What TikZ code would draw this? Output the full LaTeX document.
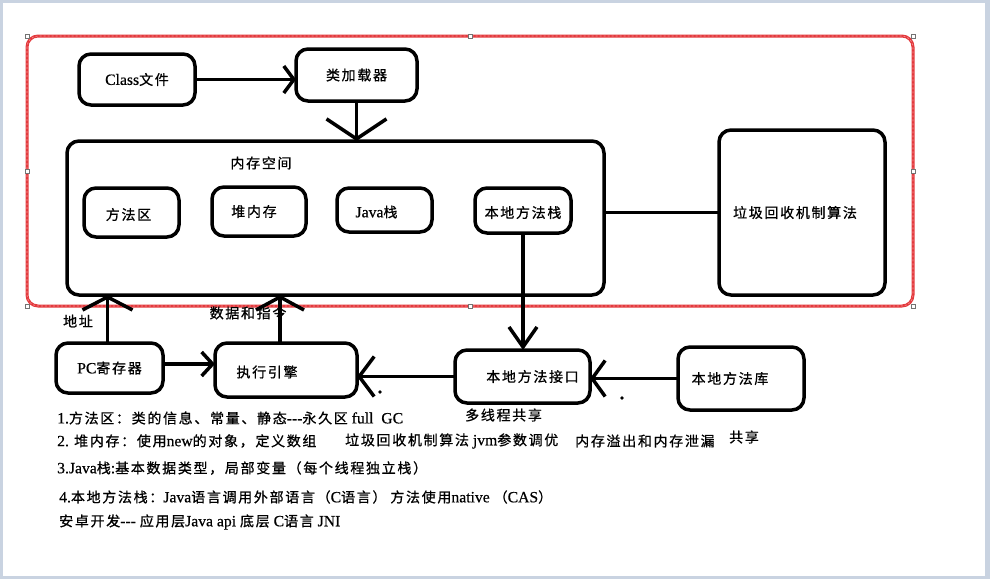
\documentclass[tikz,border=0pt]{standalone}
\usepackage{fontspec}
\setmainfont{Liberation Serif}[Scale=1.12, FakeBold=0.5]
\newfontfamily\cjk{Noto Sans CJK SC}[LetterSpace=12, FakeBold=0.8]
\newcommand\zh[1]{{\cjk #1}}
\usetikzlibrary{arrows.meta}
\definecolor{bgblue}{HTML}{C9D3E1}
\definecolor{framered}{HTML}{E4393D}
\tikzset{
  box/.style={draw, line width=3.5pt, rounded corners=12pt, inner sep=0pt, outer sep=0pt, anchor=north west},
  boxlabel/.style={font=\fontsize{14pt}{16pt}\selectfont, inner sep=0pt},
  txt/.style={font=\fontsize{14pt}{16pt}\selectfont, inner sep=0pt, anchor=west},
  conn/.style={line width=3.5pt},
  tip/.style 2 args={-{Straight Barb[length=#1pt,width=#2pt]}},
  handle/.style={draw=black!55, fill=white, line width=0.5pt, minimum size=4pt, inner sep=0pt},
}
\begin{document}
\begin{tikzpicture}[x=1pt,y=-1pt]
  % canvas
  \fill[bgblue] (0,0) rectangle (990,579);
  \fill[white] (3,3) rectangle (985,576);
  \useasboundingbox (0,0) rectangle (990,579);

  % selection frame around the JVM part
  \node[draw=framered, line width=3pt, rounded corners=11pt, minimum width=886pt, minimum height=270pt,
        inner sep=0pt, outer sep=0pt] (frame) at (470,171) {};
  \draw[framered!55!white, line width=0.6pt, dash pattern=on 2pt off 2pt, rounded corners=11pt]
        (frame.north west) rectangle (frame.south east);
  \foreach \a in {north west,north,north east,west,east,south west,south,south east}
    \node[handle] at (frame.\a) {};

  % boxes
  \node[box, minimum width=116pt, minimum height=51pt,
        label={[boxlabel]center:Class\zh{文件}}] (cls) at (79,54) {};
  \node[box, minimum width=121pt, minimum height=52pt,
        label={[boxlabel]center:\zh{类加载器}}] (loader) at (296,49) {};
  \node[box, minimum width=537pt, minimum height=154pt] (mem) at (67,141) {};
  \node[boxlabel] (memt) at (261,163) {\zh{内存空间}};
  \node[box, minimum width=95pt, minimum height=49pt,
        label={[boxlabel, xshift=-3pt, yshift=-2pt]center:\zh{方法区}}] (method) at (84,188) {};
  \node[box, minimum width=94pt, minimum height=49pt,
        label={[boxlabel, xshift=-5pt]center:\zh{堆内存}}] (heap) at (212,187) {};
  \node[box, minimum width=95pt, minimum height=44pt,
        label={[boxlabel, xshift=-8pt, yshift=-2pt]center:Java\zh{栈}}] (jstack) at (337,188) {};
  \node[box, minimum width=96pt, minimum height=45pt,
        label={[boxlabel, yshift=-2pt]center:\zh{本地方法栈}}] (nstack) at (475,188) {};
  \node[box, minimum width=166pt, minimum height=165pt,
        label={[boxlabel, xshift=-7pt]center:\zh{垃圾回收机制算法}}] (gc) at (719,130) {};
  \node[box, minimum width=107pt, minimum height=50pt,
        label={[boxlabel]center:PC\zh{寄存器}}] (pc) at (56,343) {};
  \node[box, minimum width=142pt, minimum height=54pt,
        label={[boxlabel, xshift=-19pt, yshift=-2pt]center:\zh{执行引擎}}] (exec) at (215,343) {};
  \node[box, minimum width=135pt, minimum height=53pt,
        label={[boxlabel, xshift=10pt]center:\zh{本地方法接口}}] (niface) at (455,350) {};
  \node[box, minimum width=126pt, minimum height=63pt,
        label={[boxlabel, xshift=-11pt]center:\zh{本地方法库}}] (lib) at (678,347) {};

  % connectors
  \draw[conn, tip={10}{27}] (cls.east) -- (cls.east -| loader.west);
  \draw[conn, tip={20}{60}] (loader.south) -- (loader.south |- mem.north);
  \draw[conn] (gc.west) -- (gc.west -| mem.east);
  \draw[conn, tip={20}{28}] (nstack.south) -- (nstack.south |- niface.north);
  \draw[conn, tip={13}{36}] (lib.west) -- (lib.west -| niface.east);
  \draw[conn, tip={15}{40}] (niface.west) -- (niface.west -| exec.east);
  \draw[conn, tip={11}{24}] ([yshift=4pt]pc.east) -- ([yshift=4pt]pc.east -| exec.west);
  \draw[conn, tip={13}{50}] ([xshift=-2pt]pc.north) -- ([xshift=-2pt]pc.north |- mem.south);
  \draw[conn, tip={13}{48}] ([xshift=-6pt]exec.north) -- ([xshift=-6pt]exec.north |- mem.south);

  % stray dots
  \fill (380,392) circle (1.8pt);
  \fill (622,398) circle (1.8pt);

  % labels beside the connectors
  \node[boxlabel] (addr) at (78,321) {\zh{地址}};
  \node[boxlabel] (data) at (248,313) {\zh{数据和指令}};
  \node[txt] (share) at (465,415) {\zh{多线程共享}};

  % notes
  \node[txt] (n1) at (57,418) {1.\zh{方法区：类的信息、常量、静态}-{}-{}-\zh{永久区} full\ \ GC};
  \node[txt] (n2a) at (57,441) {2. \zh{堆内存：使用}new\zh{的对象，定义数组}};
  \node[txt] (n2b) at (345,441) {\zh{垃圾回收机制算法} jvm\zh{参数调优}};
  \node[txt] (n2c) at (575,441) {\zh{内存溢出和内存泄漏}};
  \node[txt] (n2d) at (729,437) {\zh{共享}};
  \node[txt] (n3) at (57,468) {3.Java\zh{栈}:\zh{基本数据类型，局部变量（每个线程独立栈）}};
  \node[txt] (n4) at (59,497) {4.\zh{本地方法栈：}Java\zh{语言调用外部语言（}C\zh{语言）} \zh{方法使用}native \zh{（}CAS\zh{）}};
  \node[txt] (n5) at (59,522) {\zh{安卓开发}-{}-{}-\ \zh{应用层}Java api \zh{底层} C\zh{语言} JNI};
\end{tikzpicture}
\end{document}
